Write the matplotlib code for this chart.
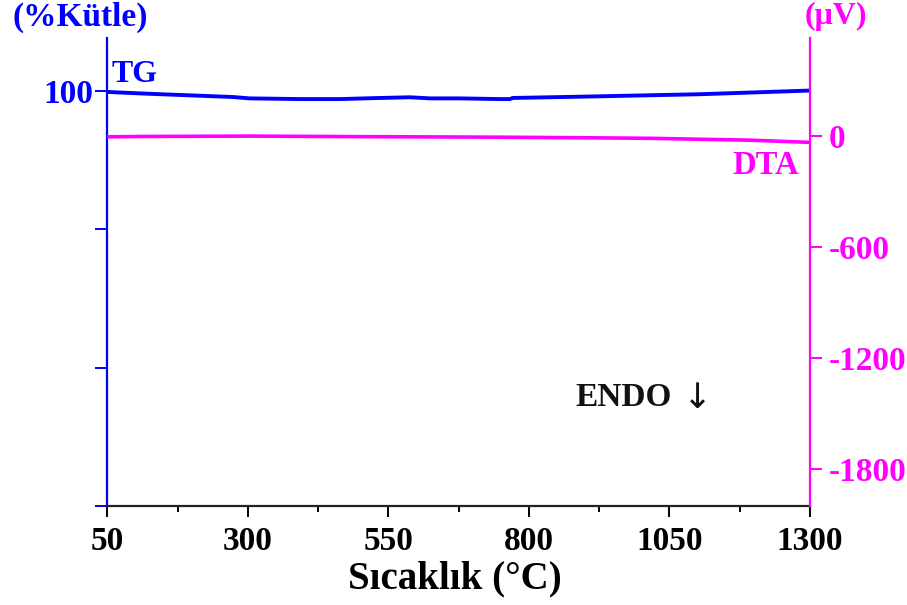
import matplotlib.pyplot as plt
from matplotlib.ticker import FixedLocator

# TG (mass %) and DTA (microvolt) traces against temperature
tg_temp = [50, 113, 215, 273, 303, 392, 464, 535, 588, 624, 677, 748, 766, 771, 837, 926, 1015, 1104, 1193, 1300]
tg_mass = [99.83, 99.6, 99.28, 99.1, 98.9, 98.8, 98.8, 98.96, 99.06, 98.9, 98.9, 98.8, 98.8, 98.96, 99.06, 99.2,
           99.35, 99.5, 99.74, 100.03]

dta_temp = [50, 113, 303, 500, 677, 750, 900, 1015, 1193, 1300]
dta_uv = [-4, -2, 0, -3, -5, -6, -9, -12, -22, -34]

x_ticks = [50, 300, 550, 800, 1050, 1300]
x_minor = [175, 425, 675, 925, 1175]
tg_ticks = [40, 60, 80, 100]
tg_tick_labels = ['', '', '', '100']
dta_ticks = [-1800, -1200, -600, 0]

blue = '#0000FF'
magenta = '#FF00FF'
fam = ['Liberation Serif', 'DejaVu Sans']
plt.rcParams['font.family'] = fam
plt.rcParams['font.weight'] = 'bold'
plt.rcParams['axes.unicode_minus'] = False

fig = plt.figure(figsize=(9.07, 6.05), dpi=100)
ax = fig.add_axes([0.1185, 0.163, 0.7745, 0.774])
ax2 = ax.twinx()

ax.plot(tg_temp, tg_mass, color=blue, lw=2.8)
ax2.plot(dta_temp, dta_uv, color=magenta, lw=2.6)

ax.set_xlim(50, 1300)
ax.set_ylim(40, 107.6)
ax2.set_ylim(-2003, 530)

ax.xaxis.set_major_locator(FixedLocator(x_ticks))
ax.xaxis.set_minor_locator(FixedLocator(x_minor))
ax.set_xticklabels([str(t) for t in x_ticks])
ax.set_yticks(tg_ticks)
ax.set_yticklabels(tg_tick_labels)
ax2.set_yticks(dta_ticks)

for a in (ax, ax2):
    a.spines['top'].set_visible(False)
ax.spines['right'].set_visible(False)
ax2.spines['left'].set_visible(False)
ax2.spines['bottom'].set_visible(False)
ax.spines['left'].set_color(blue)
ax.spines['left'].set_linewidth(1.6)
ax2.spines['right'].set_color(magenta)
ax2.spines['right'].set_linewidth(1.6)
ax.spines['bottom'].set_color('#222222')
ax.spines['bottom'].set_linewidth(1.6)

ax.tick_params(axis='x', which='major', length=8, width=1.4, direction='out', labelsize=24, pad=6)
ax.tick_params(axis='x', which='minor', length=4, width=1.4, direction='out')
ax.tick_params(axis='y', length=8.5, width=1.4, colors=blue, labelsize=24, pad=2)
ax2.tick_params(axis='y', length=8.5, width=1.4, colors=magenta, labelsize=24, pad=5)

ax.set_xlabel('Sıcaklık (°C)', fontsize=28, fontweight='bold', labelpad=1)
ax.xaxis.set_label_coords(0.494, -0.115)

fig.text(0.088, 0.972, '(%Kütle)', color=blue, fontsize=24, fontweight='bold', ha='center', va='center')
fig.text(0.922, 0.972, '(μV)', color=magenta, fontsize=23, fontweight='bold', ha='center', va='center')
ax.text(0.006, 0.906, 'TG', transform=ax.transAxes, color=blue, fontsize=23, fontweight='bold', va='baseline')
ax.text(0.985, 0.727, 'DTA', transform=ax.transAxes, color=magenta, fontsize=23.5, fontweight='bold',
        ha='right', va='center')
ax.text(0.6655, 0.2316, 'ENDO', transform=ax.transAxes, color='#111111', fontsize=24, fontweight='bold',
        ha='left', va='center')
ax.text(0.819, 0.2316, '↓', transform=ax.transAxes, color='#111111', fontsize=25, fontweight='normal',
        ha='left', va='center', family=['DejaVu Sans'])

fig.savefig('out.png', dpi=100)
